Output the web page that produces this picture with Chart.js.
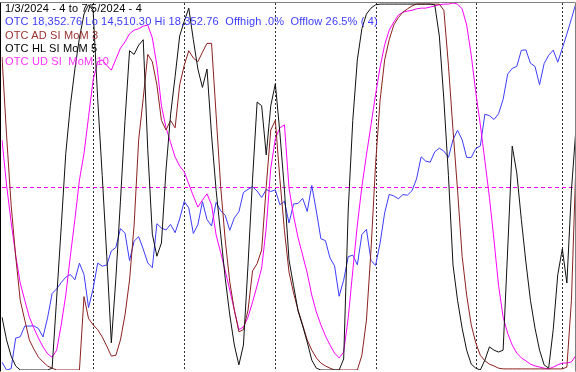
<!DOCTYPE html>
<html>
<head>
<meta charset="utf-8">
<script src="https://cdn.jsdelivr.net/npm/chart.js@4.4.1/dist/chart.umd.min.js"></script>
<style>
body { margin: 0; background: #fff; }
#wrap { position: relative; width: 576px; height: 372px; }
#head { position: absolute; left: 5px; top: 2px; font: 11px "Liberation Sans", Arial, sans-serif; line-height: 13.3px; letter-spacing: 0.15px; pointer-events: none; }
#head div { white-space: pre; }
</style>
</head>
<body>
<div id="wrap">
<canvas id="chart" width="576" height="372"></canvas>
<div id="head">
<div style="color:#000">1/3/2024 - 4 to 7/5/2024 - 4</div>
<div style="color:#3c3cff">OTC 18,352.76 Lo 14,510.30 Hi 18,352.76  Offhigh .0%  Offlow 26.5% ( 4)</div>
<div style="color:#9a3030">OTC AD SI MoM 3</div>
<div style="color:#000">OTC HL SI MoM 5</div>
<div style="color:#ff33ff">OTC UD SI  MoM 10</div>
</div>
</div>
<script>
const dates = [
  "1/3","1/4","1/5","1/8","1/9","1/10","1/11","1/12","1/16","1/17","1/18","1/19","1/22","1/23","1/24","1/25","1/26","1/29","1/30","1/31",
  "2/1","2/2","2/5","2/6","2/7","2/8","2/9","2/12","2/13","2/14","2/15","2/16","2/20","2/21","2/22","2/23","2/26","2/27","2/28","2/29",
  "3/1","3/4","3/5","3/6","3/7","3/8","3/11","3/12","3/13","3/14","3/15","3/18","3/19","3/20","3/21","3/22","3/25","3/26","3/27","3/28",
  "4/1","4/2","4/3","4/4","4/5","4/8","4/9","4/10","4/11","4/12","4/15","4/16","4/17","4/18","4/19","4/22","4/23","4/24","4/25","4/26","4/29","4/30",
  "5/1","5/2","5/3","5/6","5/7","5/8","5/9","5/10","5/13","5/14","5/15","5/16","5/17","5/20","5/21","5/22","5/23","5/24","5/28","5/29","5/30","5/31",
  "6/3","6/4","6/5","6/6","6/7","6/10","6/11","6/12","6/13","6/14","6/17","6/18","6/20","6/21","6/24","6/25","6/26","6/27","6/28",
  "7/1","7/2","7/3","7/5"
];
const monthStarts = ["2/1", "3/1", "4/1", "5/1", "6/3", "7/1"];
const midLevel = 50;
const otcLo = 14510.30;
const otcHi = 18352.76;

// OTC close
const otc = [
  14592, 14510, 14524, 14844, 14858, 14970, 14970, 14973, 14944, 14856, 15056, 15311, 15360, 15426, 15482, 15510, 15455, 15628, 15510, 15164,
  15362, 15629, 15598, 15609, 15757, 15794, 15991, 15943, 15656, 15859, 15906, 15776, 15631, 15581, 16042, 15997, 15976, 16035, 15948, 16092,
  16275, 16208, 15940, 16032, 16273, 16085, 16019, 16266, 16178, 16129, 15973, 16103, 16167, 16369, 16402, 16429, 16384, 16316, 16400, 16379,
  16397, 16240, 16277, 16049, 16249, 16254, 16307, 16170, 16442, 16175, 15885, 15865, 15683, 15602, 15282, 15451, 15697, 15713, 15612, 15928, 15983, 15658,
  15605, 15841, 16156, 16349, 16333, 16303, 16346, 16341, 16388, 16511, 16742, 16698, 16686, 16795, 16833, 16802, 16736, 16921, 17020, 16921, 16737, 16735,
  16829, 16857, 17188, 17173, 17133, 17193, 17344, 17608, 17668, 17689, 17857, 17862, 17722, 17689, 17497, 17718, 17805, 17859, 17733,
  17879, 18029, 18188, 18352.76
];

// AD SI MoM 3
const adMom = [
  85.3, 64, 45, 31, 19, 13.6, 8.2, 5.7, 3.5, 2.2, 1.1, 0.5, 0, 0, 0, 0, 0, 0, 20, 14,
  12.3, 11, 9, 6.5, 3.8, 4, 8.2, 15, 24.5, 39.5, 62.7, 74, 86, 84, 77.7, 68, 65.4, 68, 66, 77.7,
  83, 87, 85, 84, 86.6, 89, 89, 69.5, 50, 35.4, 24, 16.3, 10.4, 11, 16.3, 27, 29, 32.7, 50, 65.4,
  68, 52, 38, 26.7, 21, 16.3, 12.3, 8.2, 5.4, 3.3, 1.9, 1.1, 0.5, 0, 0, 0, 0, 0, 0, 4, 13.6, 32.7,
  56, 73.6, 84.5, 90, 94, 96, 97.5, 98.4, 99.2, 99.7, 99.7, 99.7, 99.7, 99.7, 99.7, 98, 83, 65.4, 49, 31,
  20.4, 12.3, 7.4, 4, 2.5, 1.6, 1.1, 0.5, 0.3, 0.3, 0.3, 0.3, 0.3, 0.3, 0.3, 0.3, 0.3, 0.3, 0.3,
  0.3, 0.3, 0.3, 0.8, 19, 57
];

// HL SI MoM 5
const hlMom = [
  14.4, 8.2, 3.8, 1.1, 0, 0, 0, 0, 0, 0, 0, 0.5, 19.6, 39, 59, 72, 82, 90.5, 97, 99.5,
  98, 74, 53, 31, 7.4, 25, 46, 68, 87, 86, 88.5, 90, 60, 37, 31, 34.6, 54.5, 69.5, 80, 91,
  95, 98.6, 90, 82, 77, 82, 64, 49, 37, 25, 15, 6.8, 1.4, 6.8, 28.6, 52, 73, 72, 58.6, 72,
  78, 64.6, 49, 30, 23, 16, 12, 7.6, 2.7, 0.5, 0, 0, 0, 0, 0, 3, 43.6, 68, 84.5, 93, 97, 98.6,
  99.5, 99.7, 99.7, 99.7, 99.7, 99.7, 99.7, 99.7, 99.7, 99.7, 99.7, 99.7, 99.7, 99.5, 91, 73.6, 53, 28.6, 19, 11.4,
  5.4, 1.6, 0.5, 0, 2.7, 6.3, 5.4, 4.9, 5.4, 32.7, 61, 53.7, 41, 29.4, 19, 11.4, 5.4, 1.4, 0.5,
  11, 26, 33, 23.7, 49, 66
];

// UD SI MoM 10
const udMom = [
  62.7, 50.4, 40.3, 31.3, 23.7, 19, 14.4, 11.4, 8.7, 6.3, 4.4, 3.5, 5.4, 12.3, 20.4, 31, 41, 51.8, 59, 69,
  79, 84, 84.5, 83, 81.7, 84.7, 87.7, 89.4, 91.6, 92.6, 93, 93.7, 94, 90.5, 83, 72, 66, 62, 58, 55.6,
  54, 50.7, 47.4, 44.4, 46.3, 48, 45, 36.8, 32, 27, 21.8, 16.3, 11, 11.7, 14.4, 18.5, 23, 27.8, 38.7, 55,
  63, 66, 66.8, 49.6, 42, 36, 31.3, 26.4, 20.4, 15.8, 12.3, 9.3, 6.8, 4.6, 3.3, 4.9, 14.2, 27, 39.5, 50, 58.6, 66.8,
  75, 82.6, 88.6, 92.6, 94.8, 96.7, 97.5, 97.8, 98, 98.4, 98.6, 98.6, 98.9, 99.2, 99.5, 99.7, 99.7, 100, 99.7, 98.4,
  94, 85.8, 75.7, 66.8, 57, 47, 35.4, 23, 14.4, 10, 6.8, 4.6, 3.3, 2.5, 1.6, 1.1, 0.8, 0.5, 0.3,
  0.8, 1.4, 1.9, 1.9, 2.2, 4
];

// dashed month lines, mid line and frame
const guides = {
  id: "guides",
  beforeDatasetsDraw(chart) {
    const { ctx, chartArea: a, scales } = chart;
    ctx.save();
    ctx.lineWidth = 1;
    ctx.strokeStyle = "#303030";
    ctx.setLineDash([2, 2]);
    monthStarts.forEach((d) => {
      const px = Math.round(scales.x.getPixelForValue(dates.indexOf(d))) + 0.5;
      ctx.beginPath();
      ctx.moveTo(px, a.top);
      ctx.lineTo(px, a.bottom);
      ctx.stroke();
    });
    ctx.restore();
    ctx.save();
    ctx.lineWidth = 1;
    ctx.strokeStyle = "#ff00ff";
    ctx.setLineDash([4, 3]);
    const py = Math.round(scales.y.getPixelForValue(midLevel)) + 0.5;
    ctx.beginPath();
    ctx.moveTo(a.left, py);
    ctx.lineTo(a.right, py);
    ctx.stroke();
    ctx.restore();
  },
  afterDraw(chart) {
    const { ctx, chartArea: a } = chart;
    ctx.save();
    ctx.lineWidth = 1;
    ctx.strokeStyle = "#808080";
    ctx.beginPath();
    ctx.moveTo(0.5, a.top - 0.5);
    ctx.lineTo(575.5, a.top - 0.5);
    ctx.lineTo(575.5, 371.5);
    ctx.stroke();
    ctx.strokeStyle = "#000";
    ctx.beginPath();
    ctx.moveTo(0.5, a.top - 0.5);
    ctx.lineTo(0.5, 371.5);
    ctx.stroke();
    ctx.restore();
  }
};

function line(label, data, color, axis) {
  return {
    label: label,
    data: data,
    yAxisID: axis,
    borderColor: color,
    borderWidth: 1,
    pointRadius: 0,
    tension: 0,
    fill: false
  };
}

new Chart(document.getElementById("chart"), {
  type: "line",
  data: {
    labels: dates,
    datasets: [
      line("OTC HL SI MoM 5", hlMom, "#111111", "y"),
      line("OTC AD SI MoM 3", adMom, "#8c2020", "y"),
      line("OTC UD SI  MoM 10", udMom, "#ff00ff", "y"),
      line("OTC", otc, "#3c3cff", "yP")
    ]
  },
  options: {
    responsive: false,
    animation: false,
    devicePixelRatio: 1,
    layout: { padding: { left: 2, right: 0, top: 3, bottom: 2 } },
    plugins: { legend: { display: false }, tooltip: { enabled: false } },
    scales: {
      x: { display: false, offset: false },
      y: { display: false, min: 0, max: 100 },
      yP: { display: false, min: otcLo, max: otcHi }
    }
  },
  plugins: [guides]
});
</script>
</body>
</html>
